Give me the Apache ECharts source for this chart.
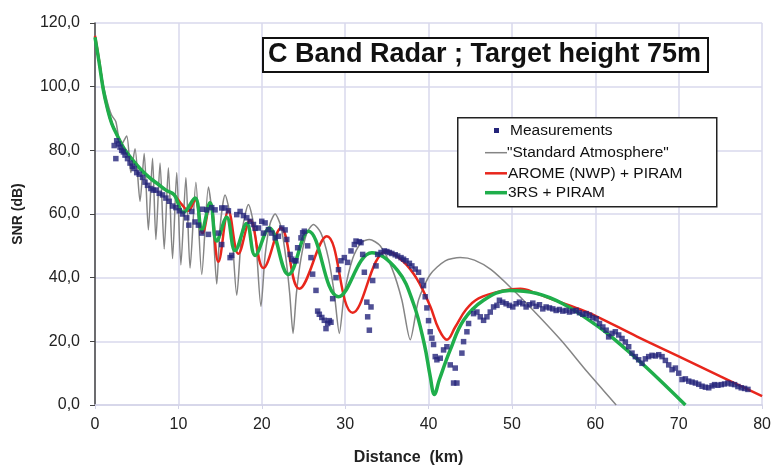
<!DOCTYPE html>
<html>
<head>
<meta charset="utf-8">
<style>
  html, body { margin: 0; padding: 0; background: #fff; }
  #chart { width: 774px; height: 471px; }
</style>
<script src="https://cdn.jsdelivr.net/npm/echarts@6/dist/echarts.min.js"></script>
</head>
<body>
<div id="chart"></div>
<script>
// [distance km, SNR dB]
var measurements = [
  [2.3, 81.5], [2.5, 77.4], [2.6, 83], [2.8, 82], [3.0, 81], [3.2, 80], [3.4, 79.5], [3.6, 78.5],
  [3.9, 77.4], [4.2, 76], [4.5, 75], [4.7, 74.3], [5.0, 73], [5.3, 72.5], [5.7, 71.5], [6.0, 70],
  [6.3, 69], [6.7, 68], [7.0, 67.5], [7.3, 67.5], [7.7, 66.5], [8.1, 66], [8.5, 65], [8.9, 64],
  [9.3, 62.5], [9.7, 62], [10.1, 61], [10.5, 60], [11.0, 58.8], [11.25, 56.5], [11.6, 60.8], [12.0, 57.5],
  [12.4, 56.5], [12.8, 54], [12.9, 61.5], [13.4, 61.3], [13.6, 53.6], [14.0, 62], [14.4, 61.3], [14.8, 54],
  [15.2, 61.9], [15.2, 50.4], [15.6, 61.9], [16.0, 61], [16.2, 46.3], [16.4, 47], [17.0, 59.8], [17.4, 60.8],
  [17.8, 59.5], [18.2, 58.8], [18.6, 57.7], [19.0, 56.7], [19.2, 55.5], [19.6, 55.6], [20.0, 57.7], [20.2, 54],
  [20.4, 57.2], [20.8, 55.1], [21.2, 54], [21.6, 52.5], [22.0, 53], [22.4, 55.6], [22.8, 55], [23.0, 52],
  [23.4, 47.3], [23.6, 45.8], [23.9, 45.3], [24.1, 45.3], [24.3, 49.4], [24.7, 52.5], [24.9, 54.1], [25.1, 54.6],
  [25.5, 50], [25.9, 46.3], [26.1, 41.1], [26.5, 36], [26.7, 29.5], [26.9, 28.5], [27.2, 27.5], [27.5, 26.6],
  [27.7, 24], [27.9, 25.6], [28.1, 26.5], [28.3, 26], [28.5, 33.4], [28.9, 40], [29.2, 42.5], [29.5, 45.3],
  [29.9, 46.3], [30.3, 44.8], [30.7, 48.4], [31.1, 50.4], [31.3, 51.5], [31.7, 51.3], [31.9, 51], [32.1, 47.3],
  [32.3, 41.7], [32.6, 32.3], [32.7, 27.7], [32.9, 23.5], [33.1, 30.8], [33.3, 39.1], [33.7, 43.7], [33.9, 47.3],
  [34.3, 47.9], [34.7, 48.4], [35.0, 48.2], [35.3, 47.9], [35.6, 47.6], [36.0, 47.2], [36.3, 46.8], [36.7, 46.3],
  [37.0, 45.8], [37.3, 45.3], [37.7, 44.5], [38.0, 43.7], [38.4, 42.7], [38.8, 41.7], [39.2, 39.1], [39.4, 37.5],
  [39.6, 34], [39.8, 30.5], [40.0, 26.5], [40.2, 23], [40.4, 21], [40.6, 19], [40.8, 15.2], [41.0, 14.2],
  [41.4, 14.7], [41.8, 17.3], [42.2, 18.3], [42.6, 12.6], [43.0, 6.9], [43.2, 11.6], [43.4, 6.9], [44.0, 16.3],
  [44.2, 19.9], [44.6, 23], [44.8, 25.6], [45.4, 28.7], [45.8, 29.2], [46.2, 27.7], [46.6, 26.6], [47.0, 27.7],
  [47.4, 29.2], [47.8, 30.8], [48.2, 31.3], [48.5, 32.9], [48.9, 32.3], [49.3, 31.8], [49.7, 31.3], [50.1, 30.8],
  [50.5, 31.8], [50.9, 32.3], [51.3, 31.8], [51.7, 30.8], [52.1, 31.5], [52.5, 32], [52.9, 31], [53.3, 31.5],
  [53.7, 30.2], [54.1, 30.8], [54.5, 30.5], [54.9, 30.2], [55.3, 29.7], [55.7, 30], [56.1, 29.5], [56.5, 29.7],
  [56.9, 29.2], [57.3, 29.5], [57.7, 29.7], [58.1, 29], [58.5, 28.5], [58.9, 28.7], [59.3, 28.2], [59.7, 27.5],
  [60.1, 27.1], [60.5, 25.6], [60.9, 24.5], [61.3, 23.5], [61.6, 21.4], [62.0, 22.5], [62.4, 23], [62.8, 22],
  [63.2, 20.9], [63.6, 19.8], [64.0, 18.3], [64.4, 16.3], [64.8, 15.2], [65.2, 14.2], [65.6, 13.1], [66.0, 14.5],
  [66.4, 15.2], [66.8, 15.6], [67.2, 15.4], [67.6, 15.8], [68.0, 15.2], [68.4, 14], [68.8, 12.6], [69.2, 11.1],
  [69.6, 11.6], [70.0, 10], [70.4, 8], [70.8, 8.2], [71.2, 7.5], [71.6, 7.2], [72.0, 6.9], [72.4, 6.5],
  [72.8, 5.9], [73.2, 5.6], [73.6, 5.4], [74.0, 6], [74.3, 6.4], [74.7, 6.2], [75.1, 6.4], [75.5, 6.6],
  [75.9, 6.9], [76.3, 6.6], [76.7, 6.4], [77.1, 5.8], [77.5, 5.4], [77.9, 5.2], [78.3, 4.9]
];

var standardAtmosphere = [
  [0, 116], [0.5, 108], [1, 100.5], [1.5, 95], [2, 91], [2.5, 89], [3.1, 81.5], [3.8, 84.5],
  [4.3, 73], [4.8, 80.5], [5.4, 64], [5.9, 79], [6.4, 55], [6.9, 77.5], [7.3, 52], [7.8, 76],
  [8.3, 49], [8.8, 74.5], [9.3, 46], [9.8, 73], [10.3, 44], [10.9, 71.5], [11.4, 43], [12.1, 70],
  [12.8, 41], [13.6, 68.5], [14.1, 58], [14.6, 38], [15.0, 56], [15.6, 66], [16.3, 58], [17.0, 34.5],
  [17.6, 54], [18.4, 63], [19.2, 54], [19.9, 31], [20.4, 47], [21.0, 57], [21.6, 60], [22.3, 56],
  [22.9, 46], [23.35, 35], [23.75, 22.5], [24.15, 35], [24.7, 46], [25.4, 54], [26.2, 56.7], [27.1, 54],
  [28.0, 46], [28.7, 35], [29.3, 22.5], [29.9, 35], [30.9, 46], [31.9, 51], [32.9, 52], [34.2, 50],
  [35.6, 43], [36.8, 33], [37.8, 20.5], [38.8, 33], [40.2, 41], [42.0, 45.3], [43.8, 46.3], [45.5, 45.5],
  [47.5, 42.5], [50, 36.5], [53, 28.5], [56, 20], [59, 10.5], [61, 4.5], [62.5, 0]
];

var aromePiram = [
  [0, 116], [0.5, 108], [1, 99], [1.5, 93], [2, 88.5], [2.7, 84.5], [3.5, 80.5], [4.5, 77],
  [5.5, 74], [6.5, 71.5], [7.5, 69.5], [8.5, 67.5], [9.5, 66], [10.4, 63], [11.2, 61], [12, 64.5],
  [12.9, 54], [13.8, 63.5], [14.8, 45], [16, 61], [17.2, 47.5], [18.6, 58], [20.2, 43], [22.3, 55.6],
  [24.5, 36.5], [27.8, 53], [30.9, 29], [35, 48.4], [37, 45], [38.6, 39.6], [40.2, 31], [41.2, 24],
  [42.2, 20.5], [43.2, 24.5], [44.5, 30], [46, 33.5], [49, 36], [51, 36.5], [53, 35], [55, 33],
  [57.7, 30.5], [60, 28], [65, 21.5], [70, 15.3], [75, 9], [80, 2.8]
];

var rs3Piram = [
  [0, 115.5], [0.5, 107.5], [1, 99], [1.5, 93], [2, 88.5], [2.7, 84.5], [3.5, 80.5], [4.5, 77],
  [5.5, 74], [6.5, 71.5], [7.5, 69.5], [8.5, 67.5], [9.5, 66], [10.6, 60.5], [12.0, 65], [12.8, 55],
  [13.8, 63.5], [14.6, 51.5], [15.8, 59], [16.8, 48.5], [18.2, 57], [19.2, 47], [20.9, 55.6], [23.2, 41],
  [25.6, 54.6], [29.2, 34], [33.2, 47.8], [36.3, 42.2], [38.2, 31.8], [39.5, 19], [40.2, 9], [40.7, 3.3],
  [41.3, 8], [42.6, 17.3], [44.2, 26.6], [46.6, 32.9], [49.7, 36], [52.9, 35.1], [56.1, 31.8], [60.1, 25.1],
  [62.4, 20.4], [66, 12.1], [70.8, 0]
];

var seriesNames = ['Measurements', '"Standard Atmosphere"', 'AROME (NWP) + PIRAM', '3RS + PIRAM'];
var seriesColors = ['#24247a', '#858585', '#e8261c', '#1fae4b'];

var chart = echarts.init(document.getElementById('chart'), null, { renderer: 'canvas' });
var font = 'Liberation Sans, Arial, sans-serif';

chart.setOption({
  animation: false,
  grid: { left: 95, right: 7, top: 23, bottom: 62 },
  xAxis: {
    type: 'value',
    min: 0,
    max: 80,
    interval: 10,
    name: 'Distance  (km)',
    nameLocation: 'middle',
    nameGap: 45,
    nameTextStyle: { fontFamily: font, fontWeight: 'bold', fontSize: 16, color: '#222', padding: [0, 40, 0, 0] },
    axisLine: { onZero: false, lineStyle: { color: '#d3d3e8', width: 1.5 } },
    axisTick: { show: true, length: 4, lineStyle: { color: '#d3d3e8' } },
    axisLabel: { fontFamily: font, fontSize: 16, color: '#222', margin: 12 },
    splitLine: { lineStyle: { color: '#d8d8ec', width: 1.5 } }
  },
  yAxis: {
    type: 'value',
    min: 0,
    max: 120,
    interval: 20,
    name: 'SNR (dB)',
    nameLocation: 'middle',
    nameGap: 70,
    nameTextStyle: { fontFamily: font, fontWeight: 'bold', fontSize: 14, color: '#222' },
    axisLine: { show: true, lineStyle: { color: '#444', width: 1.5 } },
    axisTick: { show: true, length: 5, lineStyle: { color: '#444' } },
    axisLabel: {
      fontFamily: font, fontSize: 16, color: '#222', margin: 15,
      formatter: function(v) { return v.toFixed(1).replace('.', ','); }
    },
    splitLine: { lineStyle: { color: '#d8d8ec', width: 1.5 } }
  },
  series: [
    {
      name: seriesNames[0], type: 'scatter', data: measurements, z: 10,
      symbol: 'rect', symbolSize: 5.5, itemStyle: { color: seriesColors[0] }
    },
    {
      name: seriesNames[1], type: 'line', data: standardAtmosphere, z: 3,
      showSymbol: false, smooth: 0.25,
      lineStyle: { color: seriesColors[1], width: 1.5 }
    },
    {
      name: seriesNames[2], type: 'line', data: aromePiram, z: 4,
      showSymbol: false, smooth: 0.4,
      lineStyle: { color: seriesColors[2], width: 2.5 }
    },
    {
      name: seriesNames[3], type: 'line', data: rs3Piram, z: 5,
      showSymbol: false, smooth: 0.4,
      lineStyle: { color: seriesColors[3], width: 3.5 }
    }
  ],
  graphic: [
    // title box
    {
      type: 'rect', left: 262, top: 37, z: 100,
      shape: { width: 445, height: 34 },
      style: { fill: '#fff', stroke: '#111', lineWidth: 2 }
    },
    {
      type: 'text', x: 484.5, y: 54.5, z: 101,
      style: {
        text: 'C Band Radar ; Target height 75m',
        font: 'bold 27px ' + font, fill: '#111',
        align: 'center', verticalAlign: 'middle'
      }
    },
    // legend box
    {
      type: 'rect', left: 457, top: 117, z: 100,
      shape: { width: 259, height: 89 },
      style: { fill: '#fff', stroke: '#222', lineWidth: 1.5 }
    },
    { type: 'rect', x: 494, y: 128, z: 101, shape: { width: 5, height: 5 }, style: { fill: seriesColors[0] } },
    { type: 'line', z: 101, shape: { x1: 485, y1: 152.7, x2: 507, y2: 152.7 }, style: { stroke: seriesColors[1], lineWidth: 1.5 } },
    { type: 'line', z: 101, shape: { x1: 485, y1: 173.3, x2: 507, y2: 173.3 }, style: { stroke: seriesColors[2], lineWidth: 2.5 } },
    { type: 'line', z: 101, shape: { x1: 485, y1: 192.7, x2: 507, y2: 192.7 }, style: { stroke: seriesColors[3], lineWidth: 3.5 } },
    { type: 'text', x: 510, y: 130.5, z: 101, style: { text: seriesNames[0], font: '15.5px ' + font, fill: '#111', verticalAlign: 'middle' } },
    { type: 'text', x: 507, y: 152.7, z: 101, style: { text: seriesNames[1], font: '15.5px ' + font, fill: '#111', verticalAlign: 'middle' } },
    { type: 'text', x: 508, y: 173.3, z: 101, style: { text: seriesNames[2], font: '15.5px ' + font, fill: '#111', verticalAlign: 'middle' } },
    { type: 'text', x: 508, y: 192.7, z: 101, style: { text: seriesNames[3], font: '15.5px ' + font, fill: '#111', verticalAlign: 'middle' } }
  ]
});
window.addEventListener('resize', function() { chart.resize(); });
</script>
</body>
</html>
